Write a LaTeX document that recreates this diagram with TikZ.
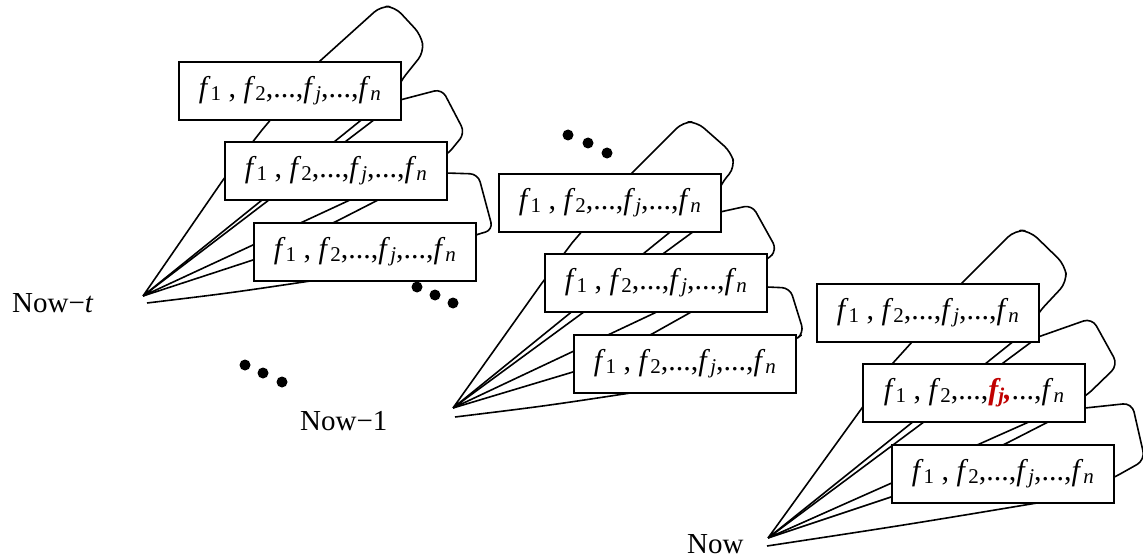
\documentclass[tikz,border=0pt]{standalone}
\usepackage{fontspec}
\setmainfont{Liberation Serif}
\definecolor{fred}{HTML}{C00000}
\newcommand{\myf}[1]{\textit{f}\raisebox{-3pt}{\fontsize{21pt}{21pt}\selectfont #1}}
\newcommand{\myfred}{{\color{fred}\bfseries\itshape f\raisebox{-3pt}{\fontsize{21pt}{21pt}\selectfont j},}}
\newcommand{\ftext}{\myf{1} , \myf{2},...,\myf{\textit{j}},...,\myf{\textit{n}}}
\newcommand{\ftextred}{\myf{1} , \myf{2},...,\myfred...,\myf{\textit{n}}}
\tikzset{
  fbox/.style={draw, fill=white, line width=1.8pt, anchor=north west,
    minimum width=222pt, minimum height=58pt, inner sep=0pt,
    font=\fontsize{30pt}{33pt}\selectfont},
  cone/.style={line width=1.6pt, line join=round},
  lbl/.style={anchor=base west, inner sep=0pt, font=\fontsize{29pt}{32pt}\selectfont},
  bigdot/.style={fill=black}
}
\begin{document}
\begin{tikzpicture}[x=1pt,y=-1pt]
\useasboundingbox (0,0) rectangle (1143,559);
\coordinate (A1) at (143,296);
\coordinate (B1) at (147,303);
\coordinate (A2) at (453,408);
\coordinate (B2) at (455,417);
\coordinate (A3) at (768,538);
\coordinate (B3) at (767,546);

% group 1 cones
\draw[cone] (A1) -- (223,180) -- (262,130) -- (320,61) [rounded corners=9pt] -- (381,6) -- (395,7) -- (421,35) -- (424,52) -- (400,82) [sharp corners] -- (396,92) -- (A1);
\draw[cone] (A1) -- (400,100) [rounded corners=8pt] -- (442,89) -- (465,133) -- (447,155) [sharp corners] -- (A1);
\draw[cone] (A1) -- (253,260) -- (337,221) -- (380,199) -- (446,173) [rounded corners=8pt] -- (478,174) -- (493,230) -- (475,235) [sharp corners] -- (450,246) -- (317,280) .. controls (230,293) .. (B1);

% group 2 cones
\draw[cone] (A2) -- (542,283) -- (572,243) -- (632,173) [rounded corners=9pt] -- (683,122) -- (697,122) -- (731,152) -- (735,167) -- (721,184) [sharp corners] -- (717,194) -- (A2);
\draw[cone] (A2) -- (720,212) [rounded corners=8pt] -- (752,205) -- (777,250) -- (767,260) [sharp corners] -- (A2);
\draw[cone] (A2) -- (573,372) -- (652,334) -- (693,311) -- (767,287) [rounded corners=8pt] -- (790,288) -- (804,333) -- (795,340) [sharp corners] -- (770,350) -- (637,392) .. controls (545,406) .. (B2);

% group 3 cones
\draw[cone] (A3) -- (862,408) -- (893,363) -- (912,342) -- (962,283) [rounded corners=10pt] -- (1015,230) -- (1030,231) -- (1065,265) -- (1067,282) -- (1038,313) [sharp corners] -- (1030,328) -- (A3);
\draw[cone] (A3) -- (1038,337) [rounded corners=9pt] -- (1092,318) -- (1118,365) -- (1085,397) [sharp corners] -- (A3);
\draw[cone] (A3) -- (891,497) -- (1007,443) -- (1048,422) -- (1085,408) [rounded corners=9pt] -- (1132,403) -- (1145,460) -- (1113,478) [sharp corners] -- (1080,492) -- (1043,502) .. controls (905,525) .. (B3);

% boxes
\node[fbox] (g1a) at (178,61) {\ftext};
\node[fbox] (g1b) at (224,141) {\ftext};
\node[fbox] (g1c) at (253,222) {\ftext};
\node[fbox] (g2a) at (498,173) {\ftext};
\node[fbox] (g2b) at (544,253) {\ftext};
\node[fbox] (g2c) at (573,334) {\ftext};
\node[fbox] (g3a) at (816,283) {\ftext};
\node[fbox] (g3b) at (862,363) {\ftextred};
\node[fbox] (g3c) at (891,444) {\ftext};

% dots
\foreach \p in {(417,287),(435,295),(453,303),(568,135),(588,143),(607,153),(245,365),(263,373),(282,382)}
  \fill[bigdot] \p circle (5.5);

% labels
\node[lbl] (l1) at (12,312) {Now−\textit{t}};
\node[lbl] (l2) at (300,430) {Now−1};
\node[lbl] (l3) at (687,553) {Now};
\end{tikzpicture}
\end{document}
